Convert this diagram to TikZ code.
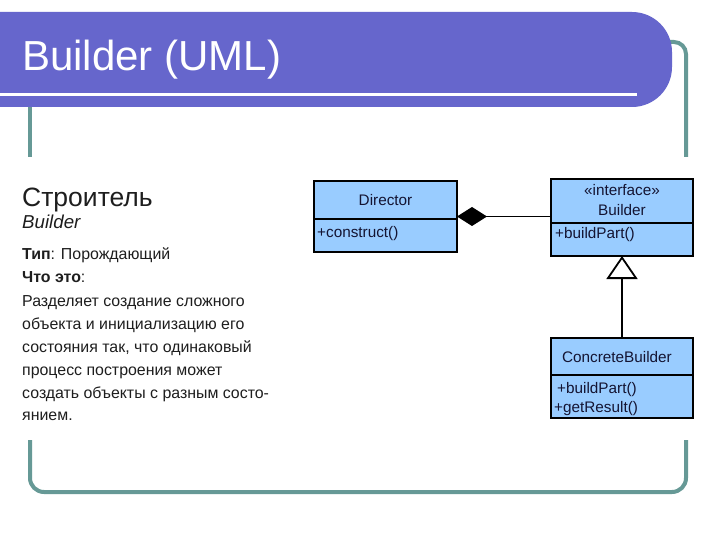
\documentclass[tikz,border=0pt]{standalone}
\usepackage{fontspec}
\setmainfont{Liberation Sans}
\usetikzlibrary{arrows.meta}
\definecolor{barcol}{RGB}{102,102,204}
\definecolor{framecol}{RGB}{102,153,150}
\definecolor{umlfill}{RGB}{153,204,255}
\definecolor{umltext}{RGB}{20,20,50}
\definecolor{bodytext}{RGB}{30,30,30}
\begin{document}
\begin{tikzpicture}[x=1pt,y=-1pt,
  frameline/.style={draw=framecol, line width=4pt},
  umlbox/.style={draw=black, fill=umlfill, line width=2.2pt, inner sep=0pt, outer sep=0pt},
  umltxt/.style={text=umltext, font=\fontsize{15.3}{18}\selectfont, inner sep=0pt},
  bodytxt/.style={anchor=base west, text=bodytext, inner sep=0pt, font=\fontsize{15.9}{18}\selectfont},
  sepline/.style={draw=black, line width=2.2pt},
  conn/.style={draw=black, line width=1.8pt}]
\useasboundingbox (0,0) rectangle (720,540);
\fill[white] (0,0) rectangle (720,540);
% frame
\draw[frameline, rounded corners=12pt] (640,42) -- (686,42) -- (686,157);
\draw[frameline] (30,100) -- (30,157);
\draw[frameline, rounded corners=14pt] (30,440) -- (30,492) -- (686,492) -- (686,440);
% title bar
\fill[barcol, rounded corners=40pt] (-60,12) rectangle (672,107);
\draw[white, line width=3pt] (-5,95) -- (637,95);
\node[anchor=base west, text=white, inner sep=0pt, font=\fontsize{42}{50}\selectfont] (title) at (22,71) {Builder (UML)};
% left text
\node[anchor=base west, text=bodytext, inner sep=0pt, font=\fontsize{26.5}{30}\selectfont] (t1) at (22,207) {Строитель};
\node[anchor=base west, text=bodytext, inner sep=0pt, font=\fontsize{18.7}{22}\selectfont\itshape] (t2) at (22,229) {Builder};
\node[bodytxt] (t3) at (22,259) {\textbf{Тип}: Порождающий};
\node[bodytxt] (t4) at (22,282) {\textbf{Что это}:};
\node[bodytxt] (l1) at (22,306) {Разделяет создание сложного};
\node[bodytxt] (l2) at (22,329) {объекта и инициализацию его};
\node[bodytxt] (l3) at (22,352) {состояния так, что одинаковый};
\node[bodytxt] (l4) at (22,375) {процесс построения может};
\node[bodytxt] (l5) at (22,398) {создать объекты с разным состо-};
\node[bodytxt] (l6) at (22,420) {янием.};
% UML boxes
\node[umlbox, minimum width=143pt, minimum height=71pt] (dir) at (385.5,216.5) {};
\node[umlbox, minimum width=142pt, minimum height=77pt] (bld) at (622,217.5) {};
\node[umlbox, minimum width=142pt, minimum height=80pt] (cb) at (622,378) {};
\coordinate (dsep) at (0,219);
\coordinate (bsep) at (0,223);
\coordinate (csep) at (0,375);
\draw[sepline] (dir.west |- dsep) -- (dir.east |- dsep);
\draw[sepline] (bld.west |- bsep) -- (bld.east |- bsep);
\draw[sepline] (cb.west |- csep) -- (cb.east |- csep);
% UML texts
\node[umltxt, anchor=base] (dname) at (385.5,206) {Director};
\node[umltxt, anchor=base west] (dop) at (317,237) {+construct()};
\node[umltxt, anchor=base] (bster) at (622,196) {«interface»};
\node[umltxt, anchor=base] (bname) at (622,215) {Builder};
\node[umltxt, anchor=base west] (bop) at (555,238) {+buildPart()};
\node[umltxt, anchor=base] (cname) at (617,362) {ConcreteBuilder};
\node[umltxt, anchor=base west] (cop1) at (557,393) {+buildPart()};
\node[umltxt, anchor=base west] (cop2) at (554,412) {+getResult()};
% connectors
\draw[conn, {Diamond[length=30pt,width=19pt]}-] (dir.east) -- (dir.east -| bld.west);
\draw[conn, -{Triangle[open, fill=white, length=23pt, width=31pt]}] (cb.north) -- (bld.south);
\end{tikzpicture}
\end{document}
